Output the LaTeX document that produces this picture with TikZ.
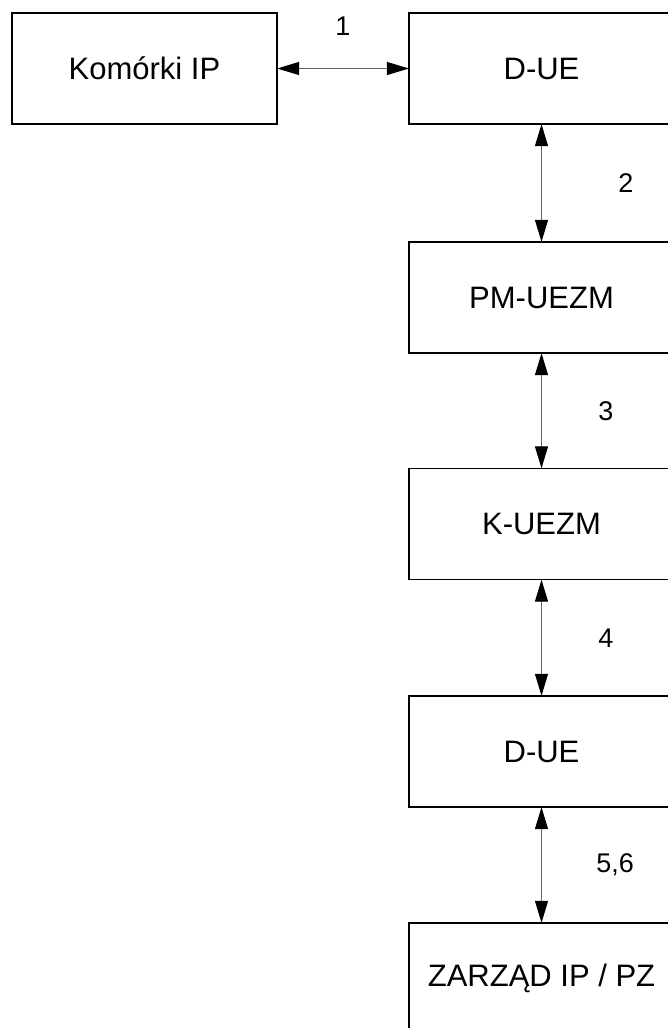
\documentclass[tikz,border=0pt]{standalone}
\usepackage{fontspec}
\setmainfont{Liberation Sans}
\usetikzlibrary{shapes,arrows.meta}

\begin{document}
\begin{tikzpicture}[x=1pt,y=-1pt,>={Triangle[length=22pt,width=13pt,color=black]},
    box/.style={draw, line width=1.3pt, minimum width=265pt, minimum height=111pt, inner sep=0pt, font=\fontsize{31}{36}\selectfont},
    nr/.style={font=\fontsize{27}{32}\selectfont},
    link/.style={<->, draw=black!60, line width=1.1pt, shorten <=-0.5pt, shorten >=-0.5pt}]
        \useasboundingbox (0,0) rectangle (668,1028);
        \node[box] (KIP) at (144.5,68.5) {Komórki IP};
        \node[box] (DUE) at (541.5,68.5) {D-UE};
        \node[box] (PM) at (541.5,297.5) {PM-UEZM};
        \node[box] (K) at (541.5,524) {K-UEZM};
        \node[box] (DUE2) at (541.5,751.5) {D-UE};
        \node[box] (ZIP) at (541.5,978.5) {ZARZĄD IP / PZ};
        \draw[link] (KIP) -- (DUE) node[nr, pos=0.5, above=29pt] (n1) {1};
        \draw[link] (DUE) -- (PM) node[nr, pos=0.5, right=73pt] (n2) {2};
        \draw[link] (PM) -- (K) node[nr, pos=0.5, right=53pt] (n3) {3};
        \draw[link] (K) -- (DUE2) node[nr, pos=0.5, right=53pt] (n4) {4};
        \draw[link] (DUE2) -- (ZIP) node[nr, pos=0.5, right=51pt] (n56) {5,6};
    \end{tikzpicture}
\end{document}
